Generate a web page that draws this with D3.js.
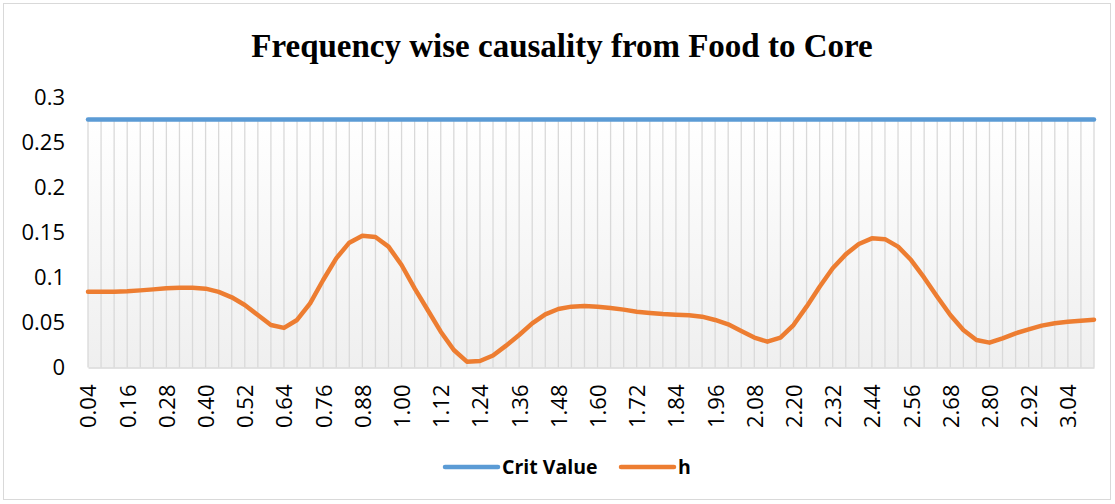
<!DOCTYPE html>
<html>
<head>
<meta charset="utf-8">
<script src="https://cdn.jsdelivr.net/npm/d3@7"></script>
<style>
  body { margin: 0; background: #fff; }
  text { font-family: "Open Sans", "Noto Sans", sans-serif; }
</style>
</head>
<body>
<script>
const width = 1115;
const height = 504;
const margin = {top: 97.5, right: 21, bottom: 136.5, left: 88};

// frequencies (category labels), 0.04 step
const freqs = ["0.04","0.08","0.12","0.16","0.20","0.24","0.28","0.32","0.36","0.40",
  "0.44","0.48","0.52","0.56","0.60","0.64","0.68","0.72","0.76","0.80",
  "0.84","0.88","0.92","0.96","1.00","1.04","1.08","1.12","1.16","1.20",
  "1.24","1.28","1.32","1.36","1.40","1.44","1.48","1.52","1.56","1.60",
  "1.64","1.68","1.72","1.76","1.80","1.84","1.88","1.92","1.96","2.00",
  "2.04","2.08","2.12","2.16","2.20","2.24","2.28","2.32","2.36","2.40",
  "2.44","2.48","2.52","2.56","2.60","2.64","2.68","2.72","2.76","2.80",
  "2.84","2.88","2.92","2.96","3.00","3.04","3.08","3.12"];

const hValues = [0.0842,0.0842,0.0841,0.0846,0.0857,0.0868,0.0880,0.0887,0.0887,0.0876,
  0.0840,0.0780,0.0694,0.0583,0.0472,0.0440,0.0528,0.0713,0.0972,0.1213,
  0.1387,0.1465,0.1450,0.1343,0.1139,0.0880,0.0639,0.0398,0.0194,0.0065,
  0.0072,0.0133,0.0243,0.0361,0.0491,0.0591,0.0650,0.0676,0.0683,0.0676,
  0.0661,0.0643,0.0620,0.0606,0.0594,0.0587,0.0580,0.0565,0.0528,0.0480,
  0.0406,0.0332,0.0287,0.0332,0.0472,0.0676,0.0898,0.1102,0.1257,0.1372,
  0.1435,0.1426,0.1343,0.1194,0.0998,0.0787,0.0583,0.0417,0.0306,0.0276,
  0.0324,0.0380,0.0424,0.0465,0.0491,0.0509,0.0520,0.0531];

const critValue = 0.2755;
const critValues = freqs.map(() => critValue);

const yTicks = [0, 0.05, 0.1, 0.15, 0.2, 0.25, 0.3];
const xTickLabels = freqs.filter((d, i) => i % 3 === 0);

const svg = d3.select("body").append("svg")
    .attr("width", width)
    .attr("height", height);

// chart border
svg.append("rect")
    .attr("x", 3.5).attr("y", 3.5)
    .attr("width", width - 8).attr("height", height - 8)
    .attr("fill", "#fff")
    .attr("stroke", "#d9d9d9")
    .attr("stroke-width", 1);

const x = d3.scalePoint()
    .domain(freqs)
    .range([margin.left, width - margin.right]);

const y = d3.scaleLinear()
    .domain([0, 0.3])
    .range([height - margin.bottom, margin.top]);

// plot background gradient
const grad = svg.append("defs").append("linearGradient")
    .attr("id", "bg").attr("x1", 0).attr("y1", 0).attr("x2", 0).attr("y2", 1);
grad.append("stop").attr("offset", "0%").attr("stop-color", "#ffffff");
grad.append("stop").attr("offset", "100%").attr("stop-color", "#efefef");

svg.append("rect")
    .attr("x", x.range()[0])
    .attr("y", y(critValue))
    .attr("width", x.range()[1] - x.range()[0])
    .attr("height", y(0) - y(critValue))
    .attr("fill", "url(#bg)");

// vertical gridlines
svg.append("g")
  .selectAll("line")
  .data(freqs)
  .enter().append("line")
    .attr("x1", d => x(d)).attr("x2", d => x(d))
    .attr("y1", y(critValue)).attr("y2", y(0))
    .attr("stroke", "#d9d9d9")
    .attr("stroke-width", 1.3);

// x axis
const xAxis = svg.append("g")
    .attr("transform", `translate(0,${y(0)})`)
    .call(d3.axisBottom(x).tickValues(xTickLabels).tickSize(0).tickPadding(0));
xAxis.select(".domain").attr("stroke", "#d9d9d9").attr("stroke-width", 1.5);
xAxis.selectAll("text")
    .attr("font-size", 22)
    .attr("fill", "#000")
    .attr("text-anchor", "end")
    .attr("x", 0).attr("y", 0).attr("dy", "0.36em")
    .attr("transform", "translate(0,17) rotate(-90)");

// y axis
const yAxis = svg.append("g")
    .attr("transform", `translate(${margin.left},0)`)
    .call(d3.axisLeft(y).tickValues(yTicks).tickSize(0).tickPadding(23).tickFormat(d3.format("~g")));
yAxis.select(".domain").remove();
yAxis.selectAll("text")
    .attr("font-size", 22)
    .attr("fill", "#000");

// series lines
const line = d3.line()
    .x((d, i) => x(freqs[i]))
    .y(d => y(d));

svg.append("path")
    .datum(critValues)
    .attr("fill", "none")
    .attr("stroke", "#5b9bd5")
    .attr("stroke-width", 4.5)
    .attr("stroke-linecap", "round")
    .attr("d", line);

svg.append("path")
    .datum(hValues)
    .attr("fill", "none")
    .attr("stroke", "#ed7d31")
    .attr("stroke-width", 4.5)
    .attr("stroke-linejoin", "round")
    .attr("stroke-linecap", "round")
    .attr("d", line);

// title
svg.append("text")
    .attr("x", 562)
    .attr("y", 57)
    .attr("text-anchor", "middle")
    .style("font-family", "'Liberation Serif', 'Times New Roman', serif")
    .attr("font-size", 33)
    .attr("font-weight", "bold")
    .text("Frequency wise causality from Food to Core");

// legend
const legend = [
  {name: "Crit Value", color: "#5b9bd5", x: 445},
  {name: "h", color: "#ed7d31", x: 621}
];
const lg = svg.append("g").selectAll("g")
  .data(legend)
  .enter().append("g")
    .attr("transform", d => `translate(${d.x},467)`);
lg.append("line")
    .attr("x1", 0).attr("x2", 53)
    .attr("stroke", d => d.color)
    .attr("stroke-width", 4.5)
    .attr("stroke-linecap", "round");
lg.append("text")
    .attr("x", 57)
    .attr("dy", "0.36em")
    .attr("font-size", 19.5)
    .attr("font-weight", "bold")
    .text(d => d.name);
</script>
</body>
</html>
